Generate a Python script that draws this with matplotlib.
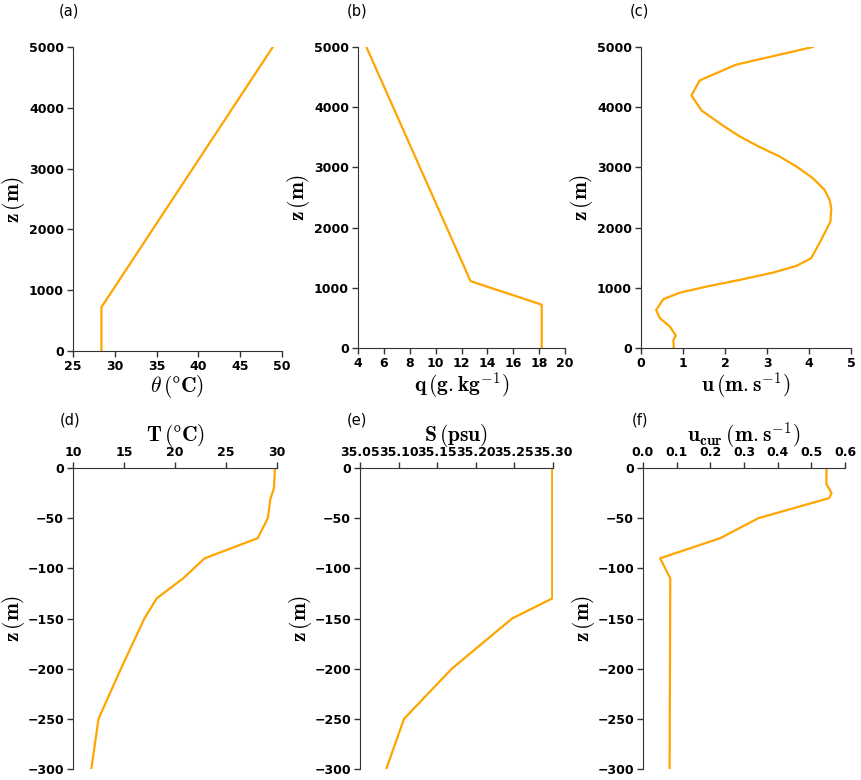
import matplotlib
matplotlib.use('Agg')
import matplotlib.pyplot as plt
from matplotlib.font_manager import FontProperties

plt.rcParams['mathtext.fontset'] = 'cm'
plt.rcParams['font.family'] = 'DejaVu Sans'

# atmosphere profiles (z in m)
z_theta = [0, 720, 5000]
theta = [28.4, 28.4, 48.9]

z_q = [0, 720, 1110, 5000]
q = [18.2, 18.2, 12.7, 4.65]

z_u = [0, 133, 205, 354, 494, 632, 810, 920, 1020, 1131, 1252, 1364, 1491,
       1796, 2100, 2323, 2461, 2627, 2822, 3015, 3181, 3337, 3514, 3691, 3946,
       4196, 4445, 4706, 5000]
u = [0.78, 0.77, 0.83, 0.69, 0.45, 0.36, 0.53, 0.93, 1.56, 2.35, 3.14, 3.70,
     4.05, 4.29, 4.51, 4.53, 4.49, 4.37, 4.09, 3.70, 3.30, 2.83, 2.35, 1.96,
     1.44, 1.20, 1.40, 2.26, 4.09]

# ocean profiles (z in m, negative down)
z_T = [0, -20, -31, -50, -70, -90, -110, -130, -150, -200, -250, -300]
T = [29.8, 29.7, 29.35, 29.1, 28.1, 22.9, 20.8, 18.2, 17.0, 14.7, 12.5, 11.8]

z_S = [0, -130, -150, -200, -250, -300]
S = [35.299, 35.299, 35.247, 35.169, 35.107, 35.084]

z_cur = [0, -16, -25, -30, -50, -70, -90, -110, -300]
u_cur = [0.545, 0.545, 0.56, 0.553, 0.343, 0.229, 0.051, 0.081, 0.079]

W, H = 861, 780
color = '#FFA500'
lab_fs = 15.5
tick_font = FontProperties(family='DejaVu Sans', weight='bold', size=9)

fig = plt.figure(figsize=(W / 100, H / 100), dpi=100)


def box(l, r, t, b):
    return [l / W, (H - b) / H, (r - l) / W, (b - t) / H]


def style(ax, width_px, top=False):
    for s in ['right', 'top', 'bottom', 'left']:
        ax.spines[s].set_visible(False)
    ax.spines['left'].set_visible(True)
    if top:
        ax.spines['top'].set_visible(True)
        ax.xaxis.tick_top()
        ax.xaxis.set_label_position('top')
    else:
        ax.spines['bottom'].set_visible(True)
    for s in ax.spines.values():
        s.set_color('#333333')
    ax.tick_params(direction='out', length=4, width=1, color='#333333', pad=2.5)
    for lbl in ax.get_xticklabels() + ax.get_yticklabels():
        lbl.set_fontproperties(tick_font)
    ax.set_ylabel(r'$\mathbf{z\,(m)}$', fontsize=lab_fs)
    ax.yaxis.set_label_coords(-46 / width_px, 0.5)


# (a) potential temperature
ax = fig.add_axes(box(73, 282, 47, 351))
ax.plot(theta, z_theta, color=color, lw=1.6)
ax.set_xlim(25, 50)
ax.set_ylim(0, 5000)
ax.set_xticks(range(25, 51, 5))
ax.set_yticks(range(0, 5001, 1000))
ax.set_xlabel(r'$\theta\,(\mathbf{\degree C})$', fontsize=lab_fs, labelpad=0)
style(ax, 209)

# (b) specific humidity
ax = fig.add_axes(box(358, 565, 47, 348))
ax.plot(q, z_q, color=color, lw=1.6)
ax.set_xlim(4, 20)
ax.set_ylim(0, 5000)
ax.set_xticks(range(4, 21, 2))
ax.set_yticks(range(0, 5001, 1000))
ax.set_xlabel(r'$\mathbf{q\,(g.kg^{-1})}$', fontsize=lab_fs, labelpad=0)
style(ax, 207)

# (c) wind
ax = fig.add_axes(box(641, 851, 47, 348))
ax.plot(u, z_u, color=color, lw=1.6)
ax.set_xlim(0, 5)
ax.set_ylim(0, 5000)
ax.set_xticks(range(0, 6))
ax.set_yticks(range(0, 5001, 1000))
ax.set_xlabel(r'$\mathbf{u\,(m.s^{-1})}$', fontsize=lab_fs, labelpad=0)
style(ax, 210)

# (d) ocean temperature
ax = fig.add_axes(box(73, 277, 468, 769))
ax.plot(T, z_T, color=color, lw=1.6)
ax.set_xlim(10, 30)
ax.set_ylim(-300, 0)
ax.set_xticks(range(10, 31, 5))
ax.set_yticks(range(-300, 1, 50))
ax.set_xlabel(r'$\mathbf{T\,(\degree C)}$', fontsize=lab_fs, labelpad=3.5)
style(ax, 204, top=True)

# (e) salinity
ax = fig.add_axes(box(360, 553, 468, 769))
ax.plot(S, z_S, color=color, lw=1.6)
ax.set_xlim(35.05, 35.30)
ax.set_ylim(-300, 0)
ax.set_xticks([35.05, 35.10, 35.15, 35.20, 35.25, 35.30])
ax.set_xticklabels(['35.05', '35.10', '35.15', '35.20', '35.25', '35.30'])
ax.set_yticks(range(-300, 1, 50))
ax.set_xlabel(r'$\mathbf{S\,(psu)}$', fontsize=lab_fs, labelpad=3.5)
style(ax, 193, top=True)

# (f) ocean current
ax = fig.add_axes(box(643, 845, 468, 769))
ax.plot(u_cur, z_cur, color=color, lw=1.6)
ax.set_xlim(0, 0.6)
ax.set_ylim(-300, 0)
ax.set_xticks([0.0, 0.1, 0.2, 0.3, 0.4, 0.5, 0.6])
ax.set_yticks(range(-300, 1, 50))
ax.set_xlabel(r'$\mathbf{u_{cur}\,(m.s^{-1})}$', fontsize=lab_fs, labelpad=3.5)
style(ax, 202, top=True)

# panel letters
for txt, x, y in [('(a)', 59, 11), ('(b)', 347, 11), ('(c)', 630, 11),
                  ('(d)', 60, 420), ('(e)', 347, 420), ('(f)', 632, 420)]:
    fig.text(x / W, 1 - y / H, txt, fontsize=10.5, va='center', ha='left')

fig.savefig('out.png', dpi=100)
